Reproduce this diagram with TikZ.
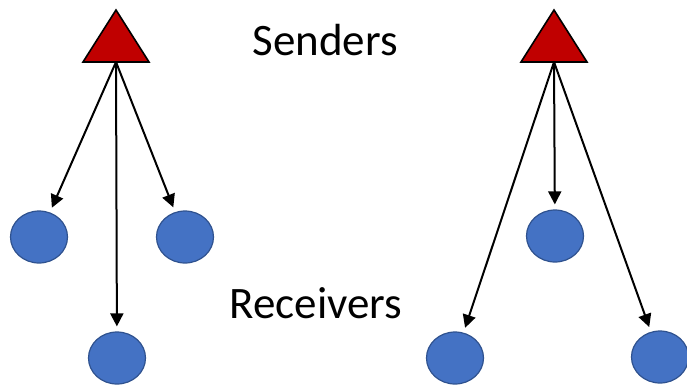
\documentclass[tikz,border=0pt]{standalone}
\usepackage{fontspec}
\setmainfont{Carlito}
\usetikzlibrary{arrows.meta,shapes.geometric}
\begin{document}
\begin{tikzpicture}[x=1pt,y=-1pt,
  sender/.style={fill={rgb,255:red,192;green,0;blue,0},draw=black,line width=1.6pt,line join=miter},
  receiver/.style={ellipse,draw={rgb,255:red,47;green,82;blue,143},fill={rgb,255:red,68;green,114;blue,196},line width=1.2pt,inner sep=0pt,minimum width=57pt,minimum height=52pt},
  link/.style={line width=2pt,-{Triangle[length=13pt,width=13pt]},shorten >=5pt},
  lbl/.style={font=\fontsize{45}{54}\selectfont,inner sep=0pt}]
\useasboundingbox (0,0) rectangle (687,388);
% senders
\draw[sender] (116,10) -- (149,62) -- (83,62) -- cycle;
\draw[sender] (554,10) -- (587,62) -- (521,62) -- cycle;
\coordinate (s1) at (116,62);
\coordinate (s2) at (554,62);
% receivers
\node[receiver] (a1) at (39,237) {};
\node[receiver] (a2) at (185,237) {};
\node[receiver] (a3) at (117,358) {};
\node[receiver] (b1) at (555,236) {};
\node[receiver] (b2) at (455,358) {};
\node[receiver] (b3) at (660,357) {};
% links
\draw[link] (s1) -- (a1);
\draw[link] (s1) -- (a3);
\draw[link] (s1) -- (a2);
\draw[link] (s2) -- (b2);
\draw[link] (s2) -- (b1);
\draw[link] (s2) -- (b3);
% labels
\node[lbl] (snd) at (325,40) {Senders};
\node[lbl] (rcv) at (316,303) {Receivers};
\end{tikzpicture}
\end{document}
